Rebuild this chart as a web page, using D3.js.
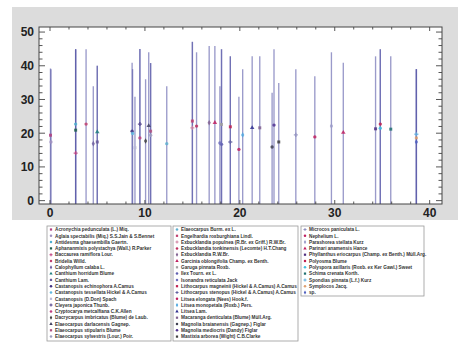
<!DOCTYPE html>
<html><head><meta charset="utf-8">
<script src="https://cdn.jsdelivr.net/npm/d3@7"></script>
<style>body{margin:0;background:#fff}</style></head>
<body>
<svg id="chart" width="468" height="347"></svg>
<script>
const species = [
 "Acronychia pedunculata (L.) Miq.","Aglaia spectabilis (Miq.) S.S.Jain & S.Bennet","Antidesma ghaesembilla Gaertn.","Aphananmixis polystachya (Wall.) R.Parker","Baccaurea ramiflora Lour.","Bridelia Willd.","Calophyllum calaba L.","Canthium horridum Blume","Canthium Lam.","Castanopsis echinophora A.Camus","Castanopsis tessellata Hickel & A.Camus","Castanopsis (D.Don) Spach","Cleyera japonica Thunb.","Cryptocarya metcalfiana C.K.Allen","Dacrycarpus imbricatus (Blume) de Laub.","Elaeocarpus darlacensis Gagnep.","Elaeocarpus stipularis Blume","Elaeocarpus sylvestris (Lour.) Poir.",
 "Elaeocarpus Burm. ex L.","Engelhardia roxburghiana Lindl.","Exbucklandia populnea (R.Br. ex Griff.) R.W.Br.","Exbucklandia tonkinensis (Lecomte) H.T.Chang","Exbucklandia R.W.Br.","Garcinia oblongifolia Champ. ex Benth.","Garuga pinnata Roxb.","Ilex Tourn. ex L.","Isonandra reticulata Jack","Lithocarpus magneinii (Hickel & A.Camus) A.Camus","Lithocarpus stenopus (Hickel & A.Camus) A.Camus","Litsea elongata (Nees) Hook.f.","Litsea monopetala (Roxb.) Pers.","Litsea Lam.","Macaranga denticulata (Blume) Müll.Arg.","Magnolia braianensis (Gagnep.) Figlar","Magnolia mediocris (Dandy) Figlar","Mastixia arborea (Wight) C.B.Clarke",
 "Microcos paniculata L.","Nephelium L.","Parashorea stellata Kurz","Parinari anamensis Hance","Phyllanthus eriocarpus (Champ. ex Benth.) Müll.Arg.","Polyosma Blume","Polyspora axillaris (Roxb. ex Ker Gawl.) Sweet","Schima crenata Korth.","Spondias pinnata (L.f.) Kurz","Symplocos Jacq.","sp."
];
const columnSizes = [18, 18, 11];
const xValues = [0.05,0.1,2.7,2.7,2.7,3.8,4.56,4.98,4.98,8.65,8.7,8.95,9.47,9.47,10.07,10.4,10.6,10.6,12.3,15.0,15.0,15.44,16.77,17.37,18.07,18.07,17.9,19.0,19.0,19.9,20.3,21.3,22.1,23.4,23.6,24.1,25.9,27.9,29.65,30.9,34.3,34.8,34.8,35.9,38.6,38.6,38.6];
const meanValues = [19.4,17.4,22.7,20.9,14.1,22.7,16.9,20.4,17.4,20.6,19.9,15.7,22.7,18.6,17.7,22.2,20.6,19.4,16.9,23.6,21.6,22.1,23.1,23.1,22.6,16.7,17.1,21.9,17.4,15.2,19.5,21.6,21.6,15.9,22.4,17.4,19.5,18.9,22.1,20.2,21.3,22.7,21.5,21.2,19.7,18.6,17.4];
const topValues = [39.2,39.0,44.9,44.9,44.9,44.9,33.9,40.0,40.0,40.9,39.0,30.8,45.0,45.0,36.0,44.0,40.8,40.8,33.9,47.1,47.1,44.0,45.9,45.9,44.9,44.9,33.9,42.8,42.8,30.8,39.0,42.8,42.8,32.0,44.9,34.9,39.0,36.9,44.0,40.9,42.8,44.9,44.9,42.8,39.0,39.0,39.0];
const xTickLabels = [0,10,20,30,40];
const yTickLabels = [0,10,20,30,40,50];
const palette = ["#b04080","#a090c0","#50b0d0","#206050","#c04080","#c04070","#7060a0","#208080","#6a5a9a","#403080","#60b8e0","#b8b8d8","#50408a","#c04080","#404040","#404060","#b05080","#a0a0c0","#60b0d0","#c04070","#d080a0","#c03060","#806090","#c02060","#a0a0a0","#6060b0","#7070c0","#c02050","#6060a0","#c02060","#50a8e0","#303090","#806090","#404050","#503090","#404040","#9090c0","#c02060","#9a9ac8","#c02060","#503080","#c02050","#40c0e0","#207070","#60b0e0","#e0a070","#5060c0"];
const symbolKinds = [d3.symbolSquare, d3.symbolCircle, d3.symbolCircle, d3.symbolSquare, d3.symbolCross, d3.symbolCircle, d3.symbolDiamond, d3.symbolTriangle];

const svg = d3.select("#chart");
const x = d3.scaleLinear().domain([-1.16, 41.3]).range([39, 442]);
const y = d3.scaleLinear().domain([-1, 51.5]).range([204, 27]);

svg.append("rect").attr("x",12).attr("y",7).attr("width",446).attr("height",213).attr("fill","#dcdcdc");
svg.append("rect").attr("x",39).attr("y",27).attr("width",403).attr("height",177).attr("fill","#fff");

svg.append("clipPath").attr("id","clip").append("rect").attr("x",39).attr("y",27).attr("width",403).attr("height",177);
const plot = svg.append("g").attr("clip-path","url(#clip)");

plot.selectAll("line.bar").data(species).join("line").attr("class","bar")
  .attr("x1",(d,i)=>x(xValues[i])).attr("x2",(d,i)=>x(xValues[i]))
  .attr("y1",y(y.domain()[0])).attr("y2",(d,i)=>y(topValues[i]))
  .attr("stroke","#5656a6").attr("stroke-opacity",0.6).attr("stroke-width",1.35);

plot.selectAll("path.mk").data(species).join("path").attr("class","mk")
  .attr("transform",(d,i)=>`translate(${x(xValues[i])},${y(meanValues[i])})`)
  .attr("d",(d,i)=>d3.symbol(symbolKinds[i%symbolKinds.length],9)())
  .attr("fill",(d,i)=>palette[i]).attr("fill-opacity",0.85);

const yMinor = d3.range(0, 52, 2);
const xMinor = d3.range(0, 42, 2);
const axG = svg.append("g").attr("stroke","#444").attr("stroke-width",0.9);
yMinor.forEach(v=>{
  const len = v%10===0 ? 6 : 3.5;
  axG.append("line").attr("x1",39).attr("x2",39+len).attr("y1",y(v)).attr("y2",y(v));
  axG.append("line").attr("x1",442).attr("x2",442-len).attr("y1",y(v)).attr("y2",y(v));
});
xMinor.forEach(v=>{
  const len = v%10===0 ? 4 : 2.5;
  axG.append("line").attr("x1",x(v)).attr("x2",x(v)).attr("y1",27).attr("y2",27+len);
  axG.append("line").attr("x1",x(v)).attr("x2",x(v)).attr("y1",204).attr("y2",204-len);
});
svg.append("rect").attr("x",39).attr("y",27).attr("width",403).attr("height",177)
  .attr("fill","none").attr("stroke","#444").attr("stroke-width",1);

const lab = svg.append("g").attr("font-family","Liberation Sans, Arial, sans-serif").attr("font-weight","bold").attr("font-size",12).attr("fill","#222");
yTickLabels.forEach(v=>lab.append("text").attr("x",34).attr("y",y(v)+4.3).attr("text-anchor","end").text(v));
xTickLabels.forEach(v=>lab.append("text").attr("x",x(v)).attr("y",217).attr("text-anchor","middle").text(v));

const boxes = [{x:47,w:124,h:115},{x:173,w:125,h:115},{x:301,w:123,h:70}];
let idx = 0;
columnSizes.forEach((n,c)=>{
  const b = boxes[c];
  const g = svg.append("g");
  g.append("rect").attr("x",b.x).attr("y",226).attr("width",b.w).attr("height",b.h)
    .attr("fill","#fff").attr("stroke","#999").attr("stroke-width",0.8);
  for(let r=0;r<n;r++,idx++){
    const yy = 229.5 + r*6.3;
    g.append("path").attr("transform",`translate(${b.x+4},${yy})`)
      .attr("d",d3.symbol(symbolKinds[idx%symbolKinds.length],5)()).attr("fill",palette[idx]);
    g.append("text").attr("x",b.x+8).attr("y",yy+1.7).attr("font-family","Liberation Sans, Arial, sans-serif")
      .attr("font-size",4.7).attr("font-weight","bold").attr("fill","#333").text(species[idx]);
  }
});
</script>
</body></html>
